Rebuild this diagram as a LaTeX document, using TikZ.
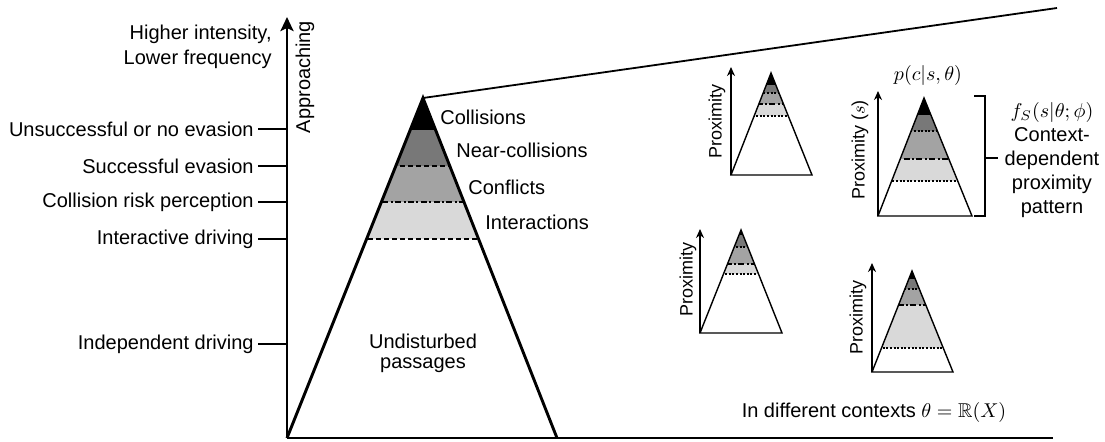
\documentclass[tikz,border=0pt]{standalone}
\usepackage{amssymb}
\usepackage{fontspec}
\setmainfont{Liberation Sans}
\usetikzlibrary{arrows.meta}
\definecolor{darkgr}{gray}{0.47}
\definecolor{midgr}{gray}{0.64}
\definecolor{lightgr}{gray}{0.85}

\begin{document}
\begin{tikzpicture}[x=0.5pt,y=-0.5pt,
    font=\fontsize{10}{12}\selectfont,
    bigline/.style={line width=1.45pt},
    smallline/.style={line width=0.7pt},
    dashline/.style={line width=0.6pt,dash pattern=on 2.5pt off 1.5pt},
    dashdotline/.style={line width=0.6pt,dash pattern=on 3pt off 1.2pt on 1pt off 1.2pt},
    dotline/.style={line width=0.55pt,dash pattern=on 1pt off 0.8pt},
    ticklbl/.style={anchor=east,inner sep=2pt},
    lvllbl/.style={anchor=west,inner sep=2pt},
    proxlbl/.style={rotate=90,inner sep=0pt,font=\fontsize{9}{11}\selectfont}]
  \useasboundingbox (0,0) rectangle (1105,441);

  %main axes
  \coordinate (o) at (287,438);
  \coordinate (ytop) at (287,17);
  \coordinate (xend) at (1053,438);
  \draw[bigline,-{Stealth[length=7pt,width=6.5pt,inset=1.5pt]}] (o) -- (ytop);
  \draw[line width=1.2pt] (o) -- (xend);
  \node[rotate=90] (appr) at (305,77) {Approaching};
  \node[anchor=east,align=right,inner sep=2pt,font=\fontsize{10}{12.5}\selectfont] (high) at (276,47) {Higher intensity,\\Lower frequency};

  %ticks on the axis
  \foreach \n/\y/\txt in {1/129/Unsuccessful or no evasion,2/166/Successful evasion,
      3/202/Collision risk perception,4/239/Interactive driving,5/344/Independent driving} {
    \node[ticklbl] (t\n) at (258,\y) {\txt};
    \coordinate (a\n) at (287,\y);
    \draw[smallline] (t\n.east) -- (a\n);
  }

  %main pyramid
  \coordinate (apex) at (423,98);
  \coordinate (bR) at (557,438);
  \coordinate (topend) at (1057,8);
  \begin{scope}
    \clip (apex) -- (o) -- (bR) -- cycle;
    \fill[black] (280,90) rectangle (570,130);
    \fill[darkgr] (280,130) rectangle (570,166);
    \fill[midgr] (280,166) rectangle (570,202);
    \fill[lightgr] (280,202) rectangle (570,239);
    \draw[dashline] (280,166) -- (570,166);
    \draw[dashdotline] (280,202) -- (570,202);
    \draw[dashline] (280,239) -- (570,239);
  \end{scope}
  \draw[bigline,line join=miter] (o) -- (apex) -- (bR);
  \draw[line width=0.9pt] (apex) -- (topend);
  \node[lvllbl] (coll) at (436,117) {Collisions};
  \node[lvllbl] (near) at (452,150) {Near-collisions};
  \node[lvllbl] (conf) at (464,187) {Conflicts};
  \node[lvllbl] (inter) at (481,222) {Interactions};
  \node[align=center,font=\fontsize{10}{10}\selectfont] (undist) at (423,353) {Undisturbed\\passages};

  %small pyramids in the contexts
  \foreach \n/\ax/\ay/\bl/\br/\by/\ya/\yb/\yc/\yd/\yt in {
      1/771/73/731/812/175/85/93/104/116/67,
      2/924/98/878/972/216/115/131/159/181/91,
      3/741/230/700/782/333/235/247/264/274/229,
      4/912/271/872/953/372/279/289/305/348/263} {
    \begin{scope}
      \clip (\ax,\ay) -- (\bl,\by) -- (\br,\by) -- cycle;
      \fill[black] (\bl,\ay) rectangle (\br,\ya);
      \fill[darkgr] (\bl,\ya) rectangle (\br,\yb);
      \fill[midgr] (\bl,\yb) rectangle (\br,\yc);
      \fill[lightgr] (\bl,\yc) rectangle (\br,\yd);
      \draw[dotline] (\bl,\yb) -- (\br,\yb);
      \draw[dashdotline] (\bl,\yc) -- (\br,\yc);
      \draw[dotline] (\bl,\yd) -- (\br,\yd);
    \end{scope}
    \coordinate (p\n) at (\ax,\ay);
    \coordinate (l\n) at (\bl,\by);
    \coordinate (r\n) at (\br,\by);
    \coordinate (y\n) at (\bl,\yt);
    \draw[smallline,line join=miter] (l\n) -- (p\n) -- (r\n) -- cycle;
    \draw[smallline,-{Stealth[length=4.5pt,width=4pt]}] (l\n) -- (y\n);
  }
  \node[proxlbl] (prox1) at (717,121) {Proximity};
  \node[proxlbl] (prox2) at (860,150) {Proximity ($s$)};
  \node[proxlbl] (prox3) at (688,279) {Proximity};
  \node[proxlbl] (prox4) at (858,317) {Proximity};
  \node (pcs) at (928,75) {$p(c|s,\theta)$};

  %bracket with the pattern
  \coordinate (b1) at (974,96);
  \coordinate (b2) at (985,96);
  \coordinate (b3) at (985,216);
  \coordinate (b4) at (974,216);
  \coordinate (bm) at (985,158);
  \node[align=center,inner sep=3pt] (ctx) at (1052,160) {$f_S(s|\theta;\phi)$\\Context-\\dependent\\proximity\\pattern};
  \draw[smallline] (b1) -- (b2) -- (b3) -- (b4);
  \draw[smallline] (bm) -- (bm -| ctx.west);

  \node (diff) at (874,412) {In different contexts $\theta=\mathbb{R}(X)$};
\end{tikzpicture}
\end{document}
